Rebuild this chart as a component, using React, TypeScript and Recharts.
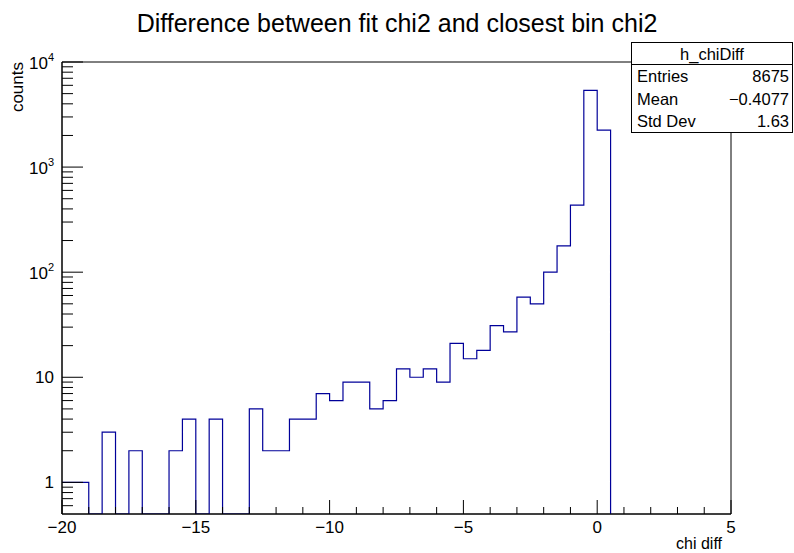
import React from "react";
import { LineChart, Line, XAxis, YAxis, ReferenceArea } from "recharts";

// h_chiDiff: 0.5 wide bins starting at -20 (empty bins beyond 0.5)
const X_MIN = -20;
const X_MAX = 5;
const BIN_W = 0.5;
const Y_FLOOR = 0.5;
const Y_TOP = 10000;

const counts = [
  1, 1, 0, 3, 0, 2, 0, 0, 2, 4,
  0, 4, 0, 0, 5, 2, 2, 4, 4, 7,
  6, 9, 9, 5, 6, 12, 10, 12, 9, 21,
  15, 18, 31, 27, 58, 50, 100, 178, 435, 5380,
  2250,
];

const xMajor = [-20, -15, -10, -5, 0, 5];
const xTicks = [
  -20, -19, -18, -17, -16, -15, -14, -13, -12, -11, -10, -9, -8,
  -7, -6, -5, -4, -3, -2, -1, 0, 1, 2, 3, 4, 5,
];
const yMajor = [1, 10, 100, 1000, 10000];
const yTicks = [
  0.6, 0.7, 0.8, 0.9,
  1, 2, 3, 4, 5, 6, 7, 8, 9,
  10, 20, 30, 40, 50, 60, 70, 80, 90,
  100, 200, 300, 400, 500, 600, 700, 800, 900,
  1000, 2000, 3000, 4000, 5000, 6000, 7000, 8000, 9000,
  10000,
];

const statsTitle = "h_chiDiff";
const statsRows = [
  ["Entries", "8675"],
  ["Mean", "\u22120.4077"],
  ["Std Dev", "1.63"],
];

const FONT = "'Liberation Sans', Arial, Helvetica, sans-serif";

// zero bins sit on the lower frame edge, the last point closes the histogram
const data = [
  ...counts.map((c, i) => ({ x: X_MIN + i * BIN_W, y: c > 0 ? c : Y_FLOOR })),
  { x: X_MIN + counts.length * BIN_W, y: Y_FLOOR },
];

const fmtX = (v: number) => (v < 0 ? "\u2212" + Math.abs(v) : String(v));

const XTick = (props: any) => {
  const { x, y, payload } = props;
  const major = xMajor.includes(payload.value);
  return (
    <g>
      <line x1={x} x2={x} y1={y} y2={y - (major ? 14 : 7)} stroke="#000" strokeWidth={1} />
      {major && (
        <text x={x} y={y + 19} textAnchor="middle" fontSize={17} fontFamily={FONT} fill="#000">
          {fmtX(payload.value)}
        </text>
      )}
    </g>
  );
};

const YTick = (props: any) => {
  const { x, y, payload } = props;
  const v = payload.value;
  const major = yMajor.includes(v);
  const exp = Math.round(Math.log10(v));
  return (
    <g>
      <line x1={x} x2={x + (major ? 21 : 11)} y1={y} y2={y} stroke="#000" strokeWidth={1} />
      {major && exp < 2 && (
        <text x={x - 8} y={y + 6} textAnchor="end" fontSize={17} fontFamily={FONT} fill="#000">
          {String(v)}
        </text>
      )}
      {major && exp >= 2 && (
        <text x={x - 8} y={y + 7} textAnchor="end" fontSize={17} fontFamily={FONT} fill="#000">
          10
          <tspan fontSize={11} dy={-8}>{exp}</tspan>
        </text>
      )}
    </g>
  );
};

export default function App() {
  return (
    <div style={{ position: "absolute", left: 0, top: 0, width: 794, height: 553, background: "#fff", overflow: "hidden" }}>
      <LineChart
        width={794}
        height={553}
        data={data}
        margin={{ top: 62, right: 63, bottom: 38, left: 61 }}
      >
        <XAxis
          dataKey="x"
          type="number"
          domain={[X_MIN, X_MAX]}
          ticks={xTicks}
          interval={0}
          tickSize={0}
          tickMargin={0}
          height={1}
          axisLine={{ stroke: "#000" }}
          tick={<XTick />}
        />
        <YAxis
          dataKey="y"
          scale="log"
          domain={[Y_FLOOR, Y_TOP]}
          allowDataOverflow
          ticks={yTicks}
          interval={0}
          tickSize={0}
          tickMargin={0}
          width={1}
          axisLine={{ stroke: "#000" }}
          tick={<YTick />}
        />
        <Line
          type="stepAfter"
          dataKey="y"
          stroke="#000099"
          strokeWidth={1.2}
          dot={false}
          isAnimationActive={false}
        />
        <ReferenceArea
          x1={X_MIN}
          x2={X_MAX}
          y1={Y_FLOOR}
          y2={Y_TOP}
          fill="none"
          stroke="#000"
          strokeWidth={1}
          fillOpacity={0}
        />
      </LineChart>

      <svg
        width={794}
        height={553}
        style={{ position: "absolute", left: 0, top: 0, pointerEvents: "none" }}
        fontFamily={FONT}
      >
        <text x={397} y={32} textAnchor="middle" fontSize={25} fill="#000">
          Difference between fit chi2 and closest bin chi2
        </text>
        <text x={0} y={0} transform="translate(23,62) rotate(-90)" textAnchor="end" fontSize={17} fill="#000">
          counts
        </text>
        <text x={722} y={549} textAnchor="end" fontSize={16} fill="#000">
          chi diff
        </text>

        <rect x={631.5} y={42.5} width={161} height={90} fill="#fff" stroke="#000" strokeWidth={1} />
        <line x1={631.5} x2={792.5} y1={64.5} y2={64.5} stroke="#000" strokeWidth={1} />
        <text x={712} y={60} textAnchor="middle" fontSize={16.5} fill="#000">
          {statsTitle}
        </text>
        {statsRows.map(([k, v], i) => (
          <g key={k}>
            <text x={637} y={82 + i * 22.5} fontSize={16.5} fill="#000">{k}</text>
            <text x={789} y={82 + i * 22.5} textAnchor="end" fontSize={16.5} fill="#000">{v}</text>
          </g>
        ))}
      </svg>
    </div>
  );
}
